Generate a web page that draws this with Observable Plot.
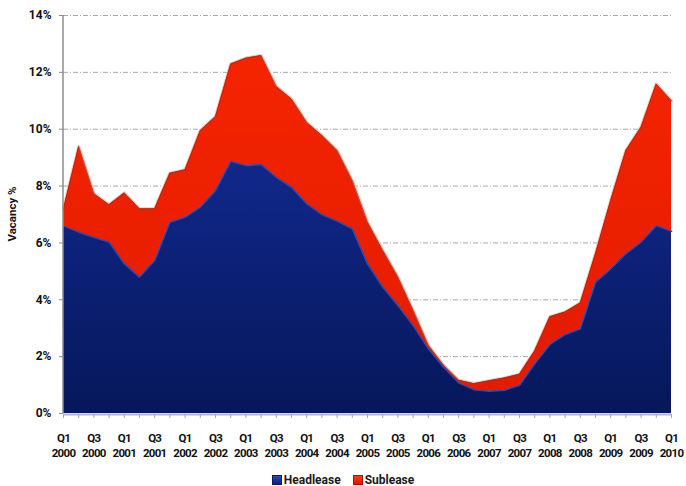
<!DOCTYPE html>
<html>
<head>
<meta charset="utf-8">
<script src="https://cdn.jsdelivr.net/npm/d3@7"></script>
<script src="https://cdn.jsdelivr.net/npm/@observablehq/plot@0.6"></script>
<style>
  body { margin: 0; background: #fff; font-family: Roboto, "Open Sans", sans-serif; }
  #legend {
    width: 686px; margin-top: 11px; text-align: center;
    font: bold 12px/14px Roboto, "Open Sans", sans-serif; color: #1a1a1a;
  }
  #legend .item { display: inline-block; margin: 0 6px; }
  #legend .sw {
    display: inline-block; width: 10px; height: 10px; margin-right: 2px;
    vertical-align: -1px; box-sizing: border-box;
  }
  /* tighter quarter labels so neighbouring years keep a gap */
  g[aria-label="x-axis tick label"] text { letter-spacing: -0.7px; }
</style>
</head>
<body>
<div id="chart"></div>
<div id="legend"></div>
<script>
// Quarterly office vacancy, Q1 2000 – Q1 2010 (% of stock)
const quarters = [
  "Q1 2000","Q2 2000","Q3 2000","Q4 2000",
  "Q1 2001","Q2 2001","Q3 2001","Q4 2001",
  "Q1 2002","Q2 2002","Q3 2002","Q4 2002",
  "Q1 2003","Q2 2003","Q3 2003","Q4 2003",
  "Q1 2004","Q2 2004","Q3 2004","Q4 2004",
  "Q1 2005","Q2 2005","Q3 2005","Q4 2005",
  "Q1 2006","Q2 2006","Q3 2006","Q4 2006",
  "Q1 2007","Q2 2007","Q3 2007","Q4 2007",
  "Q1 2008","Q2 2008","Q3 2008","Q4 2008",
  "Q1 2009","Q2 2009","Q3 2009","Q4 2009",
  "Q1 2010"
];
const headlease = [
  6.60, 6.38, 6.20, 6.03, 5.27, 4.80, 5.38, 6.73, 6.90, 7.26,
  7.84, 8.87, 8.72, 8.76, 8.31, 7.96, 7.38, 7.00, 6.77, 6.50,
  5.27, 4.45, 3.80, 3.10, 2.28, 1.64, 1.08, 0.84, 0.78, 0.82,
  0.99, 1.75, 2.43, 2.78, 2.98, 4.62, 5.09, 5.62, 6.03, 6.61,
  6.41
];
const sublease = [
  0.60, 3.01, 1.53, 1.31, 2.49, 2.40, 1.82, 1.72, 1.67, 2.69,
  2.60, 3.42, 3.78, 3.83, 3.19, 3.10, 2.86, 2.78, 2.48, 1.69,
  1.46, 1.29, 1.00, 0.53, 0.12, 0.06, 0.09, 0.21, 0.37, 0.43,
  0.39, 0.45, 0.97, 0.79, 0.91, 1.00, 2.40, 3.63, 4.04, 4.98,
  4.59
];
const seriesNames = ["Headlease", "Sublease"];
const yTicks = [0, 2, 4, 6, 8, 10, 12, 14];
const yTitle = "Vacancy %";

// stacked rows: headlease at the bottom, sublease on top of it
const rows = quarters.map((q, i) => ({
  i, q,
  head: headlease[i],
  top: headlease[i] + sublease[i]
}));

const ns = "http://www.w3.org/2000/svg";

// gradient fills for the two layers
function gradients() {
  const defs = document.createElementNS(ns, "defs");
  defs.innerHTML = `
    <linearGradient id="gHead" x1="0" y1="0" x2="0" y2="1">
      <stop offset="0" stop-color="#10288a"/>
      <stop offset="1" stop-color="#06175a"/>
    </linearGradient>
    <linearGradient id="gSub" x1="0" y1="0" x2="0" y2="1">
      <stop offset="0" stop-color="#f42400"/>
      <stop offset="1" stop-color="#e21c00"/>
    </linearGradient>`;
  return defs;
}

// rotated y-axis title, centred on the plot frame in the left margin
function yAxisTitle(index, scales, values, dims) {
  const t = document.createElementNS(ns, "text");
  const cy = (dims.marginTop + dims.height - dims.marginBottom) / 2;
  t.setAttribute("transform", `translate(12,${cy}) rotate(-90)`);
  t.setAttribute("text-anchor", "middle");
  t.setAttribute("dominant-baseline", "central");
  t.setAttribute("font-size", "11.5");
  t.setAttribute("font-weight", "bold");
  t.setAttribute("fill", "#111");
  t.textContent = yTitle;
  return t;
}

const chart = Plot.plot({
  width: 686,
  height: 462,
  marginLeft: 63,
  marginRight: 15,
  marginTop: 15,
  marginBottom: 49,
  style: { fontFamily: "Roboto, 'Open Sans', sans-serif", fontWeight: "bold", fontSize: "12px", color: "#111", background: "#fff" },
  x: { domain: [0, quarters.length - 1], axis: null, label: null },
  y: { domain: [0, 14], axis: null, label: null },
  marks: [
    gradients,
    // dash-dot gridlines
    Plot.gridY(yTicks.filter(d => d > 0), { stroke: "#a9a9a9", strokeOpacity: 1, strokeWidth: 1, strokeDasharray: "5,2,1,2" }),
    // sublease layer with a soft light edge
    Plot.lineY(rows, { x: "i", y: "top", stroke: "#f3c2b2", strokeWidth: 3.2 }),
    Plot.areaY(rows, { x: "i", y1: "head", y2: "top", fill: "url(#gSub)" }),
    Plot.lineY(rows, { x: "i", y: "top", stroke: "#c81a08", strokeWidth: 0.8 }),
    // headlease layer with a lighter top edge
    Plot.areaY(rows, { x: "i", y1: 0, y2: "head", fill: "url(#gHead)" }),
    Plot.lineY(rows, { x: "i", y: "head", stroke: "#2d4cae", strokeWidth: 1.6 }),
    // axes
    Plot.ruleY([0], { stroke: "#b3b7c8", strokeWidth: 2, dy: 1 }),
    Plot.axisX(d3.range(quarters.length), {
      anchor: "bottom", tickSize: 4, tickPadding: 13, dy: 1, label: null,
      stroke: "#a4a8ba", strokeWidth: 1,
      tickFormat: i => (i % 2 ? "" : quarters[i].replace(" ", "\n")),
      lineHeight: 1.3,
      fontSize: 11.5, fontWeight: "bold", fill: "#111"
    }),
    Plot.ruleX([0], { y1: 0, y2: 14, stroke: "#8c8c8c", strokeWidth: 1.5, dx: -0.5 }),
    Plot.axisY(yTicks, {
      anchor: "left", tickSize: 4, tickPadding: 8, label: null,
      stroke: "#8c8c8c", tickFormat: d => d + "%",
      fontSize: 12, fontWeight: "bold", fill: "#111"
    }),
    yAxisTitle
  ]
});
document.getElementById("chart").appendChild(chart);

// legend below the chart
const swatch = {
  Headlease: "background:linear-gradient(#2a4cb0,#0c2276);border:1px solid #081a5a;",
  Sublease: "background:linear-gradient(#ff3a1a,#d81800);border:1px solid #a81400;"
};
document.getElementById("legend").innerHTML = seriesNames
  .map(n => `<span class="item"><span class="sw" style="${swatch[n]}"></span>${n}</span>`)
  .join("");
</script>
</body>
</html>
